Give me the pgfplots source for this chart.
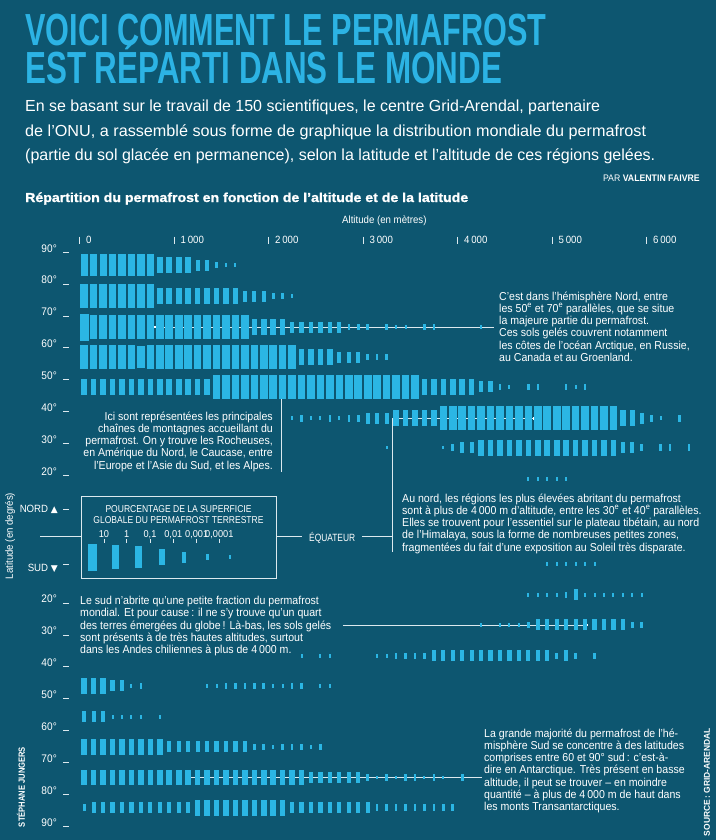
\documentclass[border=0pt]{standalone}
\usepackage{fontspec}
\setmainfont{Liberation Sans}
\newfontfamily\condfont{Liberation Sans}[FakeStretch=0.92]
\newfontfamily\heavyfont{Liberation Sans Bold}[FakeBold=1.2]
\newfontfamily\symfont{DejaVu Sans}
\usepackage{graphicx}
\usepackage{pgfplots}
\pgfplotsset{compat=1.18}
\definecolor{bg}{HTML}{0D5670}
\definecolor{barc}{HTML}{2BB6E4}
\definecolor{ttl}{HTML}{2CB3E4}
\definecolor{ln}{HTML}{DCE9EE}
\pgfdeclareplotmark{cA}{\pgfpathrectangle{\pgfpoint{-4.6pt}{-13.5pt}}{\pgfpoint{9.2pt}{27pt}}\pgfusepath{fill}}
\pgfdeclareplotmark{cB}{\pgfpathrectangle{\pgfpoint{-3.8pt}{-12pt}}{\pgfpoint{7.6pt}{24pt}}\pgfusepath{fill}}
\pgfdeclareplotmark{cC}{\pgfpathrectangle{\pgfpoint{-3.6pt}{-10.8pt}}{\pgfpoint{7.2pt}{21.6pt}}\pgfusepath{fill}}
\pgfdeclareplotmark{cD}{\pgfpathrectangle{\pgfpoint{-2.8pt}{-7.9pt}}{\pgfpoint{5.6pt}{15.8pt}}\pgfusepath{fill}}
\pgfdeclareplotmark{cE}{\pgfpathrectangle{\pgfpoint{-2.1pt}{-5.5pt}}{\pgfpoint{4.2pt}{11pt}}\pgfusepath{fill}}
\pgfdeclareplotmark{cF}{\pgfpathrectangle{\pgfpoint{-1.3pt}{-3.3pt}}{\pgfpoint{2.6pt}{6.6pt}}\pgfusepath{fill}}
\pgfdeclareplotmark{cG}{\pgfpathrectangle{\pgfpoint{-1pt}{-1.8pt}}{\pgfpoint{2pt}{3.6pt}}\pgfusepath{fill}}
\newcommand\annot{\condfont\fontsize{11.5}{12.3}\selectfont}
\begin{document}
\begin{tikzpicture}[x=1pt,y=1pt]
\useasboundingbox (0,0) rectangle (716,-840);
\fill[bg] (0,0) rectangle (716,-840);
% ---------------- titles
\begin{scope}[every node/.style={anchor=base west,inner sep=0pt,text=white}]
\node[text=ttl] at (25,-46) {\resizebox{521pt}{\height}{\bfseries\fontsize{45}{45}\selectfont VOICI COMMENT LE PERMAFROST}};
\node[text=ttl] at (25,-84) {\resizebox{477pt}{\height}{\bfseries\fontsize{45}{45}\selectfont EST RÉPARTI DANS LE MONDE}};
\node at (25,-112) {\resizebox{575pt}{\height}{\fontsize{16}{16}\selectfont En se basant sur le travail de 150 scientifiques, le centre Grid-Arendal, partenaire}};
\node at (25,-136) {\resizebox{621pt}{\height}{\fontsize{16}{16}\selectfont de l’ONU, a rassemblé sous forme de graphique la distribution mondiale du permafrost}};
\node at (25,-160) {\resizebox{630pt}{\height}{\fontsize{16}{16}\selectfont (partie du sol glacée en permanence), selon la latitude et l’altitude de ces régions gelées.}};
\node[anchor=base east] at (700,-181) {\condfont\fontsize{9.5}{10}\selectfont PAR \textbf{VALENTIN FAIVRE}};
\node at (25,-202) {\resizebox{443pt}{\height}{\heavyfont\fontsize{13}{13}\selectfont Répartition du permafrost en fonction de l’altitude et de la latitude}};
\node at (342,-223) {\condfont\fontsize{10.5}{11}\selectfont Altitude (en mètres)};
% top ticks
\foreach \px/\lab in {79.5/0,174/1\,000,268.5/2\,000,363/3\,000,457.5/4\,000,552/5\,000,646.5/6\,000}{
  \draw[ln,line width=0.6pt] (\px,-236.5) -- (\px,-243.5);
  \node at (\px+6.5,-243) {\condfont\fontsize{10.5}{11}\selectfont \lab};
}
% latitude labels
\foreach \py/\lab in {252.05/90,283.95/80,315.85/70,347.75/60,379.65/50,411.55/40,443.45/30,475.35/20,602.95/20,634.85/30,666.75/40,698.65/50,730.55/60,762.45/70,794.35/80,826.25/90}{
  \draw[ln,line width=0.6pt] (63,-\py) -- (68.5,-\py);
  \node[anchor=base east] at (57,-\py) {\condfont\fontsize{11}{11}\selectfont \lab°};
}
\draw[ln,line width=0.6pt] (63,-509) -- (68.5,-509);
\draw[ln,line width=0.6pt] (63,-564) -- (68.5,-564);
\node[anchor=base east] at (58,-512.5) {\condfont\fontsize{10.5}{11}\selectfont NORD {\symfont\fontsize{9}{9}\selectfont ▲}};
\node[anchor=base east] at (58,-571.5) {\condfont\fontsize{10.5}{11}\selectfont SUD {\symfont\fontsize{9}{9}\selectfont ▼}};
\node[anchor=center,rotate=90] at (10,-536) {\condfont\fontsize{10.5}{11}\selectfont Latitude (en degrés)};
\node[anchor=center,rotate=90] at (21,-787) {\resizebox{80pt}{\height}{\bfseries\fontsize{9}{9}\selectfont STÉPHANE JUNGERS}};
\node[anchor=center,rotate=90] at (707,-782) {\resizebox{108pt}{\height}{\bfseries\fontsize{8.5}{9}\selectfont SOURCE\,: GRID-ARENDAL}};
% legend box
\draw[ln,line width=0.7pt] (81,-496) rectangle (276,-578);
\node[anchor=base] at (178.5,-512) {\resizebox{146pt}{\height}{\fontsize{10}{10}\selectfont POURCENTAGE DE LA SUPERFICIE}};
\node[anchor=base] at (178.5,-523.5) {\resizebox{170pt}{\height}{\fontsize{10}{10}\selectfont GLOBALE DU PERMAFROST TERRESTRE}};
\foreach \px/\lab in {104/10,126.7/1,150/{0,1},173.3/{0,01},196.7/{0,001},219.3/{0,0001}}{
  \node[anchor=base] at (\px,-537) {\condfont\fontsize{10}{10}\selectfont \lab};
  \draw[ln,line width=0.6pt] (\px,-538.5) -- (\px,-542.5);
}
% equator
\draw[ln,line width=0.7pt] (40,-536) -- (81,-536);
\draw[ln,line width=0.7pt] (276,-536) -- (302,-536);
\draw[ln,line width=0.7pt] (362,-536) -- (392,-536);
\node at (309,-541) {\resizebox{46pt}{\height}{\fontsize{10.5}{11}\selectfont ÉQUATEUR}};
% annotations
\begin{scope}[every node/.style={anchor=base west,inner sep=0pt,text=white,font=\annot}]
\node at (499,-300) {C’est dans l’hémisphère Nord, entre};
\node at (499,-312.3) {les 50\textsuperscript{e} et 70\textsuperscript{e} parallèles, que se situe};
\node at (499,-324.6) {la majeure partie du permafrost.};
\node at (499,-336.9) {Ces sols gelés couvrent notamment};
\node at (499,-349.2) {les côtes de l’océan Arctique, en Russie,};
\node at (499,-361.5) {au Canada et au Groenland.};
\node[anchor=base east] at (273,-420) {Ici sont représentées les principales};
\node[anchor=base east] at (273,-432.3) {chaînes de montagnes accueillant du};
\node[anchor=base east] at (273,-444.6) {permafrost. On y trouve les Rocheuses,};
\node[anchor=base east] at (273,-456.9) {en Amérique du Nord, le Caucase, entre};
\node[anchor=base east] at (273,-469.2) {l’Europe et l’Asie du Sud, et les Alpes.};
\node at (402,-502) {Au nord, les régions les plus élevées abritant du permafrost};
\node at (402,-514.3) {sont à plus de 4\,000 m d’altitude, entre les 30\textsuperscript{e} et 40\textsuperscript{e} parallèles.};
\node at (402,-526.6) {Elles se trouvent pour l’essentiel sur le plateau tibétain, au nord};
\node at (402,-538.9) {de l’Himalaya, sous la forme de nombreuses petites zones,};
\node at (402,-551.2) {fragmentées du fait d’une exposition au Soleil très disparate.};
\node at (80,-604.5) {Le sud n’abrite qu’une petite fraction du permafrost};
\node at (80,-616.8) {mondial. Et pour cause\,: il ne s’y trouve qu’un quart};
\node at (80,-629.1) {des terres émergées du globe\,! Là-bas, les sols gelés};
\node at (80,-641.4) {sont présents à de très hautes altitudes, surtout};
\node at (80,-653.7) {dans les Andes chiliennes à plus de 4\,000 m.};
\node at (484,-737) {La grande majorité du permafrost de l’hé-};
\node at (484,-749.3) {misphère Sud se concentre à des latitudes};
\node at (484,-761.6) {comprises entre 60 et 90° sud\,: c’est-à-};
\node at (484,-773.9) {dire en Antarctique. Très présent en basse};
\node at (484,-786.2) {altitude, il peut se trouver – en moindre};
\node at (484,-798.5) {quantité – à plus de 4\,000 m de haut dans};
\node at (484,-810.8) {les monts Transantarctiques.};
\end{scope}
\end{scope}
% ---------------- chart
\begin{axis}[at={(79.5pt,-832.63pt)},anchor=south west,x=0.0945pt,y=3.19pt,
  xmin=0,xmax=6700,ymin=-92,ymax=92,hide axis,clip=false]
\addplot[scatter,only marks,scatter src=explicit symbolic,
  scatter/classes={A={mark=cA,barc},B={mark=cB,barc},C={mark=cC,barc},D={mark=cD,barc},E={mark=cE,barc},F={mark=cF,barc},G={mark=cG,barc}}]
  table[x=x,y=y,meta=c,row sep=\\]{
x y c\\
50 85.9 C\\150 85.9 C\\250 85.9 C\\350 85.9 C\\450 85.9 C\\550 85.9 C\\650 85.9 C\\750 85.9 C\\850 85.9 D\\950 85.9 D\\1050 85.9 D\\1150 85.9 D\\1250 85.9 E\\1350 85.9 E\\1450 85.9 F\\1550 85.9 G\\1650 85.9 G\\
50 76.2 B\\150 76.2 B\\250 76.2 B\\350 76.2 B\\450 76.2 B\\550 76.2 B\\650 76.2 B\\750 76.2 B\\850 76.2 D\\950 76.2 D\\1050 76.2 D\\1150 76.2 D\\1250 76.2 D\\1350 76.2 D\\1450 76.2 D\\1550 76.2 D\\1650 76.2 D\\1750 76.2 E\\1850 76.2 E\\1950 76.2 E\\2050 76.2 F\\2150 76.2 F\\2250 76.2 G\\
50 66.5 A\\150 66.5 B\\250 66.5 B\\350 66.5 B\\450 66.5 B\\550 66.5 B\\650 66.5 B\\750 66.5 B\\850 66.5 B\\950 66.5 B\\1050 66.5 B\\1150 66.5 B\\1250 66.5 B\\1350 66.5 B\\1450 66.5 B\\1550 66.5 B\\1650 66.5 B\\1750 66.5 B\\1850 66.5 D\\1950 66.5 D\\2050 66.5 D\\2150 66.5 D\\2250 66.5 E\\2350 66.5 E\\2450 66.5 E\\2550 66.5 E\\2650 66.5 E\\2750 66.5 E\\2850 66.5 F\\2950 66.5 F\\3050 66.5 F\\3250 66.5 F\\3350 66.5 G\\3450 66.5 G\\3650 66.5 F\\3750 66.5 F\\4250 66.5 G\\
50 57.1 B\\150 57.1 B\\250 57.1 B\\350 57.1 B\\450 57.1 B\\550 57.1 B\\650 57.1 C\\750 57.1 B\\850 57.1 B\\950 57.1 B\\1050 57.1 B\\1150 57.1 B\\1250 57.1 B\\1350 57.1 B\\1450 57.1 B\\1550 57.1 B\\1650 57.1 B\\1750 57.1 B\\1850 57.1 B\\1950 57.1 B\\2050 57.1 B\\2150 57.1 B\\2250 57.1 B\\2350 57.1 D\\2450 57.1 D\\2550 57.1 D\\2650 57.1 D\\2750 57.1 E\\2850 57.1 E\\2950 57.1 E\\3050 57.1 F\\3150 57.1 F\\3250 57.1 F\\
50 47.7 D\\150 47.7 D\\250 47.7 D\\350 47.7 D\\450 47.7 D\\550 47.7 D\\650 47.7 D\\750 47.7 D\\850 47.7 D\\950 47.7 D\\1050 47.7 D\\1150 47.7 D\\1250 47.7 D\\1350 47.7 D\\1450 47.7 B\\1550 47.7 B\\1650 47.7 B\\1750 47.7 B\\1850 47.7 B\\1950 47.7 B\\2050 47.7 B\\2150 47.7 B\\2250 47.7 B\\2350 47.7 B\\2450 47.7 B\\2550 47.7 B\\2650 47.7 B\\2750 47.7 B\\2850 47.7 B\\2950 47.7 B\\3050 47.7 B\\3150 47.7 B\\3250 47.7 B\\3350 47.7 B\\3450 47.7 B\\3550 47.7 B\\3650 47.7 D\\3750 47.7 D\\3850 47.7 D\\3950 47.7 D\\4050 47.7 D\\4150 47.7 D\\4250 47.7 E\\4350 47.7 E\\4450 47.7 F\\4550 47.7 G\\4750 47.7 F\\4850 47.7 F\\5150 47.7 F\\5250 47.7 G\\5350 47.7 F\\
2250 37.9 G\\2350 37.9 F\\2450 37.9 G\\2550 37.9 G\\2650 37.9 F\\2750 37.9 G\\2850 37.9 F\\2950 37.9 F\\3050 37.9 E\\3150 37.9 E\\3250 37.9 E\\3350 37.9 D\\3450 37.9 D\\3550 37.9 D\\3650 37.9 D\\3750 37.9 D\\3850 37.9 B\\3950 37.9 B\\4050 37.9 B\\4150 37.9 B\\4250 37.9 B\\4350 37.9 B\\4450 37.9 B\\4550 37.9 B\\4650 37.9 B\\4750 37.9 B\\4850 37.9 B\\4950 37.9 B\\5050 37.9 B\\5150 37.9 B\\5250 37.9 B\\5350 37.9 B\\5450 37.9 B\\5550 37.9 B\\5650 37.9 B\\5750 37.9 D\\5850 37.9 D\\5950 37.9 E\\6050 37.9 F\\6150 37.9 G\\6350 37.9 F\\
3250 28.7 G\\3850 28.7 G\\3950 28.7 F\\4050 28.7 E\\4150 28.7 E\\4250 28.7 D\\4350 28.7 D\\4450 28.7 D\\4550 28.7 D\\4650 28.7 D\\4750 28.7 D\\4850 28.7 D\\4950 28.7 D\\5050 28.7 D\\5150 28.7 D\\5250 28.7 D\\5350 28.7 D\\5450 28.7 D\\5550 28.7 D\\5650 28.7 D\\5750 28.7 E\\5850 28.7 E\\5950 28.7 F\\6150 28.7 F\\6250 28.7 F\\6450 28.7 F\\
4750 18.8 G\\4850 18.8 G\\4950 18.8 G\\5050 18.8 G\\5150 18.8 G\\
4950 -7.8 G\\5050 -7.8 G\\5150 -7.8 G\\5250 -7.8 G\\5350 -7.8 G\\5450 -7.8 G\\
4750 -17.5 G\\4850 -17.5 G\\4950 -17.5 G\\5050 -17.5 G\\5150 -17.5 F\\5250 -17.5 E\\5350 -17.5 G\\5450 -17.5 G\\5550 -17.5 G\\5650 -17.5 G\\5750 -17.5 G\\5850 -17.5 G\\5950 -17.5 G\\
4250 -26.9 G\\4450 -26.9 G\\4550 -26.9 G\\4650 -26.9 G\\4750 -26.9 F\\4850 -26.9 E\\4950 -26.9 E\\5050 -26.9 E\\5150 -26.9 E\\5250 -26.9 E\\5350 -26.9 E\\5450 -26.9 E\\5550 -26.9 E\\5650 -26.9 E\\5750 -26.9 E\\5850 -26.9 F\\5950 -26.9 F\\
2350 -36.6 G\\2550 -36.6 G\\2650 -36.6 G\\3150 -36.6 G\\3250 -36.6 G\\3350 -36.6 F\\3450 -36.6 F\\3550 -36.6 F\\3650 -36.6 F\\3750 -36.6 E\\3850 -36.6 E\\3950 -36.6 E\\4050 -36.6 E\\4150 -36.6 E\\4250 -36.6 E\\4350 -36.6 E\\4450 -36.6 E\\4550 -36.6 E\\4650 -36.6 E\\4750 -36.6 E\\4850 -36.6 E\\4950 -36.6 E\\5050 -36.6 F\\5150 -36.6 E\\5250 -36.6 F\\5450 -36.6 F\\
50 -46 D\\150 -46 D\\250 -46 D\\350 -46 E\\450 -46 E\\550 -46 G\\650 -46 F\\1350 -46 G\\1450 -46 G\\1550 -46 F\\1650 -46 F\\1750 -46 F\\1850 -46 F\\1950 -46 F\\2050 -46 G\\2150 -46 G\\2250 -46 F\\2350 -46 F\\2550 -46 G\\2650 -46 G\\
50 -55.7 E\\150 -55.7 E\\250 -55.7 E\\350 -55.7 G\\450 -55.7 G\\550 -55.7 G\\650 -55.7 G\\850 -55.7 G\\
50 -65.1 D\\150 -65.1 D\\250 -65.1 D\\350 -65.1 D\\450 -65.1 D\\550 -65.1 D\\650 -65.1 D\\750 -65.1 D\\850 -65.1 D\\950 -65.1 E\\1050 -65.1 E\\1150 -65.1 E\\1250 -65.1 E\\1350 -65.1 E\\1450 -65.1 E\\1550 -65.1 E\\1650 -65.1 E\\1750 -65.1 E\\1850 -65.1 F\\1950 -65.1 F\\2050 -65.1 G\\2150 -65.1 F\\2250 -65.1 F\\2350 -65.1 F\\2450 -65.1 G\\2550 -65.1 F\\
50 -74.7 D\\150 -74.7 D\\250 -74.7 D\\350 -74.7 D\\450 -74.7 D\\550 -74.7 D\\650 -74.7 D\\750 -74.7 D\\850 -74.7 D\\950 -74.7 D\\1050 -74.7 D\\1150 -74.7 D\\1250 -74.7 D\\1350 -74.7 D\\1450 -74.7 D\\1550 -74.7 D\\1650 -74.7 D\\1750 -74.7 D\\1850 -74.7 D\\1950 -74.7 D\\2050 -74.7 D\\2150 -74.7 D\\2250 -74.7 D\\2350 -74.7 D\\2450 -74.7 E\\2550 -74.7 E\\2650 -74.7 E\\2750 -74.7 E\\2850 -74.7 E\\2950 -74.7 E\\3050 -74.7 F\\3150 -74.7 G\\3250 -74.7 F\\3350 -74.7 G\\3450 -74.7 F\\3550 -74.7 F\\3650 -74.7 G\\3750 -74.7 F\\3850 -74.7 G\\4050 -74.7 F\\
50 -84.2 F\\150 -84.2 E\\250 -84.2 E\\350 -84.2 E\\450 -84.2 E\\550 -84.2 E\\650 -84.2 E\\750 -84.2 E\\850 -84.2 E\\950 -84.2 E\\1050 -84.2 E\\1150 -84.2 E\\1250 -84.2 D\\1350 -84.2 D\\1450 -84.2 D\\1550 -84.2 D\\1650 -84.2 D\\1750 -84.2 D\\1850 -84.2 D\\1950 -84.2 D\\2050 -84.2 D\\2150 -84.2 D\\2250 -84.2 E\\2350 -84.2 E\\2450 -84.2 E\\2550 -84.2 E\\2650 -84.2 E\\2750 -84.2 E\\2850 -84.2 E\\2950 -84.2 E\\3050 -84.2 E\\3150 -84.2 F\\3250 -84.2 F\\3350 -84.2 F\\3450 -84.2 F\\3550 -84.2 F\\3650 -84.2 F\\3750 -84.2 F\\3850 -84.2 F\\3950 -84.2 F\\
140 -5.6 A\\383 -5.6 B\\626 -5.6 C\\870 -5.6 D\\1109 -5.6 E\\1352 -5.6 F\\1593 -5.6 G\\
};
% annotation leaders
\draw[ln,line width=0.6pt] (axis cs:799,66.5) -- (axis cs:4386,66.5);
\fill[white] (axis cs:799,66.5) ++(-1.4pt,-1.4pt) rectangle ++(2.8pt,2.8pt);
\draw[ln,line width=0.6pt] (axis cs:2132,47.7) -- (axis cs:2132,21);
\fill[white] (axis cs:2132,47.7) ++(-1.4pt,-1.4pt) rectangle ++(2.8pt,2.8pt);
\draw[ln,line width=0.6pt] (axis cs:4815,37.9) -- (axis cs:3307,37.9) -- (axis cs:3307,-4);
\fill[white] (axis cs:4815,37.9) ++(-1.4pt,-1.4pt) rectangle ++(2.8pt,2.8pt);
\draw[ln,line width=0.6pt] (axis cs:2788,-26.9) -- (axis cs:5370,-26.9);
\fill[white] (axis cs:5370,-26.9) ++(-1.4pt,-1.4pt) rectangle ++(2.8pt,2.8pt);
\draw[ln,line width=0.6pt] (axis cs:1159,-74.7) -- (axis cs:4256,-74.7);
\fill[white] (axis cs:1159,-74.7) ++(-1.4pt,-1.4pt) rectangle ++(2.8pt,2.8pt);
\end{axis}
\end{tikzpicture}
\end{document}
